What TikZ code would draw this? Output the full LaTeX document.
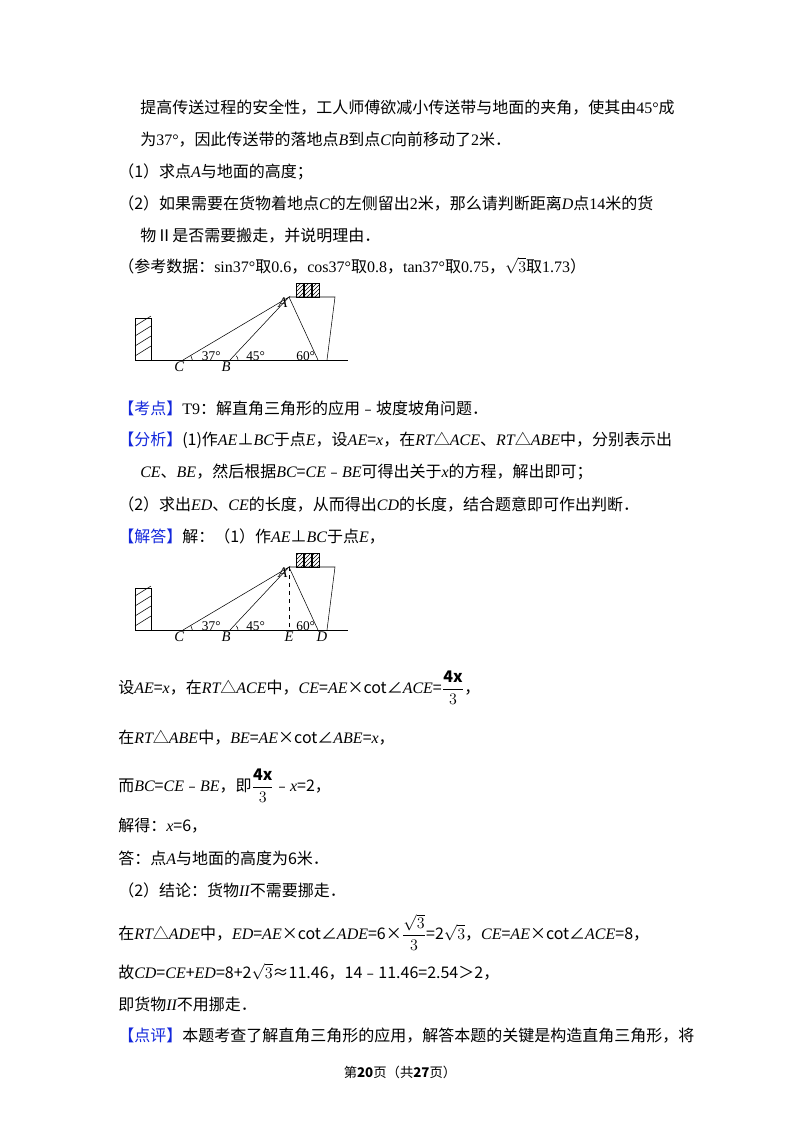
\documentclass[tikz,border=0pt]{standalone}
\usepackage{fontspec}
\setmainfont{Noto Sans CJK SC}
\newfontfamily\lat{Liberation Serif}
\usetikzlibrary{patterns}
\newcommand{\vr}[1]{{\lat\itshape #1}}
\newcommand{\nm}[1]{{\lat #1}}
\newcommand{\bigfrac}[2]{$\displaystyle\frac{#1}{#2}$}
\definecolor{tagblue}{RGB}{20,40,220}
\tikzset{
  line/.style={anchor=west,inner sep=0pt,font=\fontsize{12}{14}\selectfont},
  lbl/.style={inner sep=1pt,font=\lat\itshape\fontsize{11}{12}\selectfont},
  ang/.style={inner sep=0pt,font=\lat\fontsize{10}{11}\selectfont},
  hatchbox/.style={draw,pattern=north east lines}
}
\begin{document}
\begin{tikzpicture}[x=0.75pt,y=-0.75pt]
\useasboundingbox (0,0) rectangle (800,1132);
\fill[white] (0,0) rectangle (800,1132);
% problem text
\node[line] (t1) at (140,108) {提高传送过程的安全性，工人师傅欲减小传送带与地面的夹角，使其由\nm{45°}成};
\node[line] (t2) at (140,140) {为\nm{37°}，因此传送带的落地点\vr{B}到点\vr{C}向前移动了\nm{2}米．};
\node[line] (t3) at (118,172) {（1）求点\vr{A}与地面的高度；};
\node[line] (t4) at (118,204) {（2）如果需要在货物着地点\vr{C}的左侧留出\nm{2}米，那么请判断距离\vr{D}点\nm{14}米的货};
\node[line] (t5) at (140,236) {物Ⅱ是否需要搬走，并说明理由．};
\node[line] (t6) at (118,266) {（参考数据：\nm{sin37°}取\nm{0.6}，\nm{cos37°}取\nm{0.8}，\nm{tan37°}取\nm{0.75}，$\sqrt{3}$取\nm{1.73}）};
% the two ramp figures
\foreach \dy/\s in {0/1,270/2}{
  \begin{scope}[yshift=-\dy*0.75pt]
    \coordinate (G\s) at (135,360);
    \coordinate (H\s) at (348,360);
    \coordinate (A\s) at (289,297);
    \coordinate (P\s) at (335,297);
    \coordinate (Q\s) at (327,360);
    \coordinate (C\s) at (183,360);
    \coordinate (B\s) at (230,360);
    \coordinate (D\s) at (318,360);
    \draw (G\s) -- (H\s);
    \draw (A\s) -- (P\s) -- (Q\s);
    \draw (C\s) -- (A\s) -- (B\s);
    \draw (A\s) -- (D\s);
    \draw[semithick] (135,318) rectangle (151,360);
    \foreach \k in {0,1,2,3}
      \draw (135,356-\k*10) -- (151,346-\k*10);
    \foreach \bx in {296,304,312}
      \draw[hatchbox] (\bx,283) rectangle (\bx+7.5,297);
    \node[lbl,anchor=east] at ([yshift=-4]A\s) {A};
    \node[lbl,below left] at ([xshift=2]C\s) {C};
    \node[lbl,below] at ([xshift=-3]B\s) {B};
    \draw ([xshift=7]C\s) arc (0:-37:7);
    \draw ([xshift=6]B\s) arc (0:-45:6);
    \node[ang,anchor=south west] at ([xshift=14,yshift=-1]C\s) {37°};
    \node[ang,anchor=south west] at ([xshift=12,yshift=-1]B\s) {45°};
    \node[ang,anchor=south east] at ([xshift=-2,yshift=-1]D\s) {60°};
  \end{scope}
}
\coordinate (E2) at (289,630);
\draw[dashed] (A2) -- (E2);
\node[lbl,below] at (E2) {E};
\node[lbl,below] at ([xshift=3]D2) {D};
% solution text
\node[line] (k1) at (118,408) {\textcolor{tagblue}{【考点】}\nm{T9}：解直角三角形的应用﹣坡度坡角问题．};
\node[line] (k2) at (118,440) {\textcolor{tagblue}{【分析】}(1)作\vr{AE}⊥\vr{BC}于点\vr{E}，设\vr{AE}=\vr{x}，在\vr{RT}△\vr{ACE}、\vr{RT}△\vr{ABE}中，分别表示出};
\node[line] (k3) at (140,472) {\vr{CE}、\vr{BE}，然后根据\vr{BC}=\vr{CE}﹣\vr{BE}可得出关于\vr{x}的方程，解出即可；};
\node[line] (k4) at (118,504) {（2）求出\vr{ED}、\vr{CE}的长度，从而得出\vr{CD}的长度，结合题意即可作出判断．};
\node[line] (k5) at (118,536) {\textcolor{tagblue}{【解答】}解：（1）作\vr{AE}⊥\vr{BC}于点\vr{E}，};
\node[line] (s1) at (118,688) {设\vr{AE}=\vr{x}，在\vr{RT}△\vr{ACE}中，\vr{CE}=\vr{AE}×cot∠\vr{ACE}=\bigfrac{\mathbf{4x}}{3}，};
\node[line] (s2) at (118,738) {在\vr{RT}△\vr{ABE}中，\vr{BE}=\vr{AE}×cot∠\vr{ABE}=\vr{x}，};
\node[line] (s3) at (118,786) {而\vr{BC}=\vr{CE}﹣\vr{BE}，即\bigfrac{\mathbf{4x}}{3}﹣\vr{x}=2，};
\node[line] (s4) at (118,826) {解得：\vr{x}=6，};
\node[line] (s5) at (118,858) {答：点\vr{A}与地面的高度为6米．};
\node[line] (s6) at (118,890) {（2）结论：货物\vr{II}不需要挪走．};
\node[line] (s7) at (118,932) {在\vr{RT}△\vr{ADE}中，\vr{ED}=\vr{AE}×cot∠\vr{ADE}=6×\bigfrac{\sqrt{3}}{3}=2$\sqrt{3}$，\vr{CE}=\vr{AE}×cot∠\vr{ACE}=8，};
\node[line] (s8) at (118,972) {故\vr{CD}=\vr{CE}+\vr{ED}=8+2$\sqrt{3}$≈11.46，14﹣11.46=2.54＞2，};
\node[line] (s9) at (118,1004) {即货物\vr{II}不用挪走．};
\node[line] (s10) at (118,1036) {\textcolor{tagblue}{【点评】}本题考查了解直角三角形的应用，解答本题的关键是构造直角三角形，将};
\node[inner sep=0pt,font=\fontsize{10}{12}\selectfont] (pg) at (400,1072) {第\textbf{20}页（共\textbf{27}页）};
\end{tikzpicture}
\end{document}
